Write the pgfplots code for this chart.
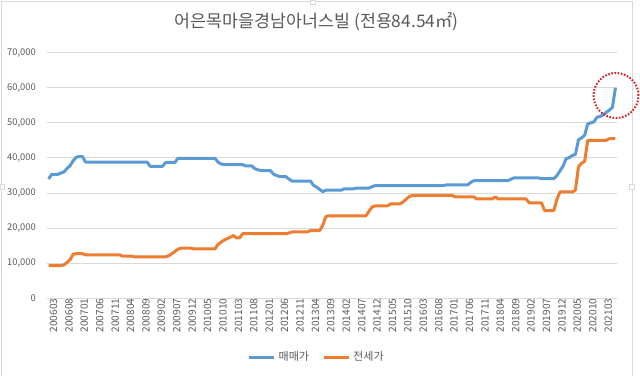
\documentclass[border=0pt]{standalone}
\usepackage{fontspec}
\setmainfont{Noto Sans CJK KR}
\usepackage{pgfplots}
\pgfplotsset{compat=1.18}
\definecolor{sale}{HTML}{5B9BD5}
\definecolor{jeonse}{HTML}{ED7D31}
\definecolor{txt}{HTML}{595959}
\definecolor{gridc}{HTML}{D9D9D9}
\definecolor{circ}{HTML}{D42020}
\begin{document}
\begin{tikzpicture}[x=0.75pt,y=0.75pt]
\useasboundingbox (0,0) rectangle (640,376);
% chart area border
\draw[gridc, line width=0.75pt] (1.5,0) -- (1.5,374.5) -- (632,374.5) -- (632,0);
\draw[gridc, fill=white, line width=0.5pt] (310.5,372) rectangle (315.5,376);
\draw[gridc, fill=white, line width=0.5pt] (0,186.5) rectangle (4,191.5);
\draw[gridc, fill=white, line width=0.5pt] (629.5,186.5) rectangle (634.5,191.5);
% title
\node[text=txt, font=\fontsize{13}{15}\selectfont, inner sep=0pt] at (316.7,354) {어은목마을경남아너스빌 (전용84.54㎡)};
\begin{axis}[
  at={(35.25pt,58.3pt)}, anchor=south west,
  width=427.5pt, height=184.2pt, scale only axis,
  xmin=-0.5, xmax=184.5, ymin=0, ymax=70000,
  axis line style={draw=none},
  major tick length=0pt,
  ymajorgrids, grid style={gridc, line width=0.75pt},
  ytick={0,10000,20000,30000,40000,50000,60000,70000},
  scaled y ticks=false,
  /pgf/number format/.cd, 1000 sep={,}, assume math mode=true, /pgfplots/.cd,
  yticklabel style={text=txt, font=\fontsize{7}{8}\selectfont, inner sep=0pt, anchor=east, xshift=-8.25pt},
  xtick={0,5,...,180},
  xticklabels={200603,200608,200701,200706,200711,200804,200809,200902,200907,200912,201005,201010,201103,201108,201201,201206,201211,201304,201309,201402,201407,201412,201505,201510,201603,201608,201701,201706,201711,201804,201809,201902,201907,201912,202005,202010,202103},
  xticklabel style={text=txt, font=\fontsize{7.6}{8}\selectfont, rotate=90, anchor=east, inner sep=0pt, yshift=-3.75pt},
  legend columns=2,
  legend style={at={(axis description cs:0.474,-0.2405)}, anchor=center, draw=none, fill=none,
    font=\fontsize{8.3}{9}\selectfont, text=txt, inner sep=0pt,
    /tikz/every even column/.append style={column sep=8pt}},
  legend image code/.code={\draw[#1] (0pt,0pt) -- (18.75pt,0pt);},
  legend cell align=left,
]
\addplot[sale, line width=2.25pt, line join=round] coordinates {
(0,34000)(1,35300)(3,35300)(4,35700)(5,36000)(6,37000)(7,37800)(8,39200)(9,40200)(10,40400)(11,40400)(12,38800)(32,38800)(33,37600)(37,37600)(38,38700)(41,38700)(42,39900)(54,39900)(55,38800)(56,38300)(57,38100)(63,38100)(64,37700)(66,37700)(67,36900)(68,36600)(69,36400)(72,36400)(73,35400)(74,35000)(75,34700)(77,34700)(78,34000)(79,33400)(85,33400)(86,32200)(87,31700)(88,31000)(89,30400)(90,30800)(95,30800)(96,31200)(99,31200)(100,31400)(104,31400)(105,31800)(106,32100)(128,32100)(129,32300)(136,32300)(137,33000)(138,33500)(149,33500)(150,33900)(151,34300)(159,34300)(160,34100)(164,34100)(165,35000)(166,36300)(167,37700)(168,39800)(169,40100)(170,40700)(171,41000)(172,45200)(173,45700)(174,46500)(175,49700)(176,50000)(177,50300)(178,51600)(179,51800)(180,52300)(181,53000)(182,53600)(183,54400)(184,60000)
};
\addlegendentry{매매가}
\addplot[jeonse, line width=2.25pt, line join=round] coordinates {
(0,9300)(4,9300)(5,9500)(6,10200)(7,11000)(8,12600)(9,12700)(11,12700)(12,12400)(23,12400)(24,12000)(27,12000)(28,11800)(38,11800)(39,12100)(40,12700)(41,13300)(42,14000)(43,14300)(46,14300)(47,14100)(54,14100)(55,15300)(56,16000)(57,16600)(58,17000)(59,17400)(60,17900)(61,17200)(62,17200)(63,18400)(77,18400)(78,18600)(79,18900)(84,18900)(85,19300)(88,19300)(89,20800)(90,23300)(91,23500)(103,23500)(104,24800)(105,26000)(106,26300)(110,26300)(111,26900)(114,26900)(115,27400)(116,28200)(117,28900)(118,29300)(131,29300)(132,28900)(138,28900)(139,28300)(144,28300)(145,28900)(146,28300)(155,28300)(156,27200)(160,27200)(161,25000)(164,25000)(165,28200)(166,30300)(170,30300)(171,30800)(172,37500)(173,38500)(174,39000)(175,45000)(181,45000)(182,45500)(184,45500)
};
\addlegendentry{전세가}
\end{axis}
% annotation circle
\draw[circ, line width=1.5pt, dash pattern=on 1.2pt off 1.2pt] (616,280.5) circle [radius=22.5];
\end{tikzpicture}
\end{document}
